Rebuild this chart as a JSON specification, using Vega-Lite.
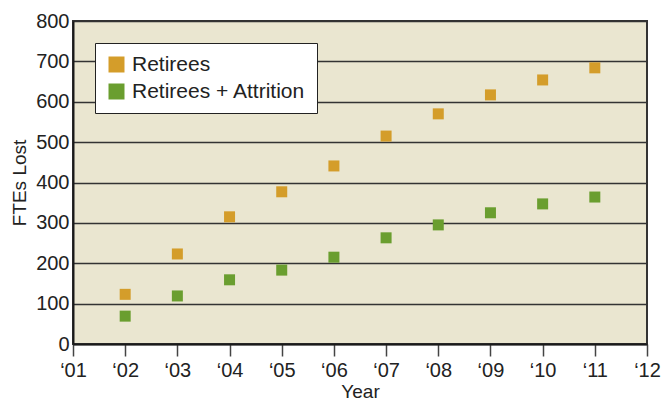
{
  "$schema": "https://vega.github.io/schema/vega-lite/v6.json",
  "autosize": "none",
  "width": 574,
  "height": 323,
  "padding": {"left": 73, "top": 21, "right": 14, "bottom": 60},
  "background": "white",
  "data": {
    "values": [
      {"year": 2002, "series": "Retirees", "fte": 123},
      {"year": 2003, "series": "Retirees", "fte": 223},
      {"year": 2004, "series": "Retirees", "fte": 315},
      {"year": 2005, "series": "Retirees", "fte": 377},
      {"year": 2006, "series": "Retirees", "fte": 441},
      {"year": 2007, "series": "Retirees", "fte": 515},
      {"year": 2008, "series": "Retirees", "fte": 570},
      {"year": 2009, "series": "Retirees", "fte": 617},
      {"year": 2010, "series": "Retirees", "fte": 654},
      {"year": 2011, "series": "Retirees", "fte": 684},
      {"year": 2002, "series": "Retirees + Attrition", "fte": 69},
      {"year": 2003, "series": "Retirees + Attrition", "fte": 119},
      {"year": 2004, "series": "Retirees + Attrition", "fte": 159},
      {"year": 2005, "series": "Retirees + Attrition", "fte": 183},
      {"year": 2006, "series": "Retirees + Attrition", "fte": 215},
      {"year": 2007, "series": "Retirees + Attrition", "fte": 263},
      {"year": 2008, "series": "Retirees + Attrition", "fte": 295},
      {"year": 2009, "series": "Retirees + Attrition", "fte": 325},
      {"year": 2010, "series": "Retirees + Attrition", "fte": 347},
      {"year": 2011, "series": "Retirees + Attrition", "fte": 364}
    ]
  },
  "mark": {"type": "point", "shape": "square", "filled": true, "size": 121, "opacity": 1},
  "encoding": {
    "x": {
      "field": "year",
      "type": "quantitative",
      "title": "Year",
      "scale": {"domain": [2001, 2012], "nice": false, "zero": false},
      "axis": {
        "values": [2001, 2002, 2003, 2004, 2005, 2006, 2007, 2008, 2009, 2010, 2011, 2012],
        "labelExpr": "'‘' + substring(toString(datum.value), 2)",
        "grid": false,
        "domainColor": "#1a1a1a",
        "domainWidth": 2,
        "tickColor": "#444",
        "tickWidth": 1.5,
        "tickSize": 12,
        "labelFontSize": 20,
        "labelPadding": 4,
        "labelColor": "#222",
        "labelFont": "Liberation Sans",
        "titleFont": "Liberation Sans",
        "titleFontSize": 19,
        "titleFontWeight": "normal",
        "titleColor": "#222",
        "titlePadding": 2,
        "labelFlush": false
      }
    },
    "y": {
      "field": "fte",
      "type": "quantitative",
      "title": "FTEs Lost",
      "scale": {"domain": [0, 800], "nice": false},
      "axis": {
        "values": [0, 100, 200, 300, 400, 500, 600, 700, 800],
        "grid": true,
        "gridColor": "#333",
        "gridWidth": 1.6,
        "gridOpacity": 1,
        "domainColor": "#1a1a1a",
        "domainWidth": 2,
        "ticks": false,
        "labelFontSize": 20,
        "labelPadding": 4,
        "labelColor": "#222",
        "labelFont": "Liberation Sans",
        "titleFont": "Liberation Sans",
        "titleFontSize": 19,
        "titleFontWeight": "normal",
        "titleColor": "#222",
        "titlePadding": 6
      }
    },
    "color": {
      "field": "series",
      "type": "nominal",
      "scale": {"domain": ["Retirees", "Retirees + Attrition"], "range": ["#D49D2A", "#6A9E2F"]},
      "legend": {
        "title": null,
        "orient": "none",
        "legendX": 22,
        "legendY": 22,
        "fillColor": "white",
        "strokeColor": "#222",
        "padding": 11,
        "symbolType": "square",
        "symbolSize": 256,
        "symbolStrokeWidth": 0,
        "symbolOpacity": 1,
        "labelFontSize": 21,
        "labelFont": "Liberation Sans",
        "labelColor": "#222",
        "labelLimit": 300,
        "rowPadding": 5,
        "labelOffset": 5
      }
    }
  },
  "config": {
    "view": {"fill": "#EAE6D0", "stroke": "#333", "strokeWidth": 2}
  }
}
